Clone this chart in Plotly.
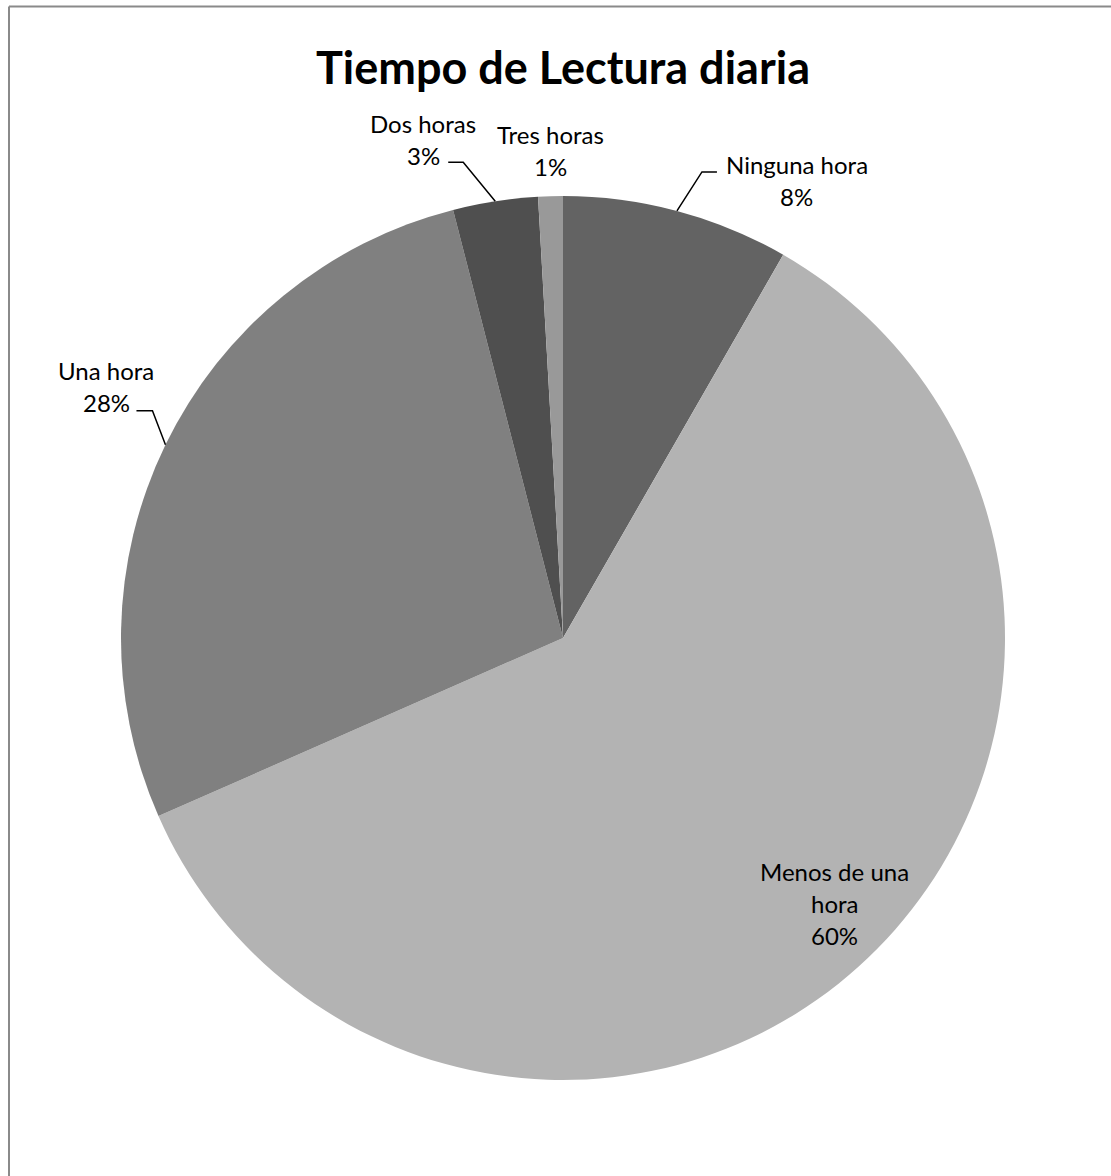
import math
import plotly.graph_objects as go

# ---- data ----
categories = ["Ninguna hora", "Menos de una hora", "Una hora", "Dos horas", "Tres horas"]
values = [8.3, 60.1, 27.6, 3.1, 0.9]
colors = ["#636363", "#b3b3b3", "#808080", "#4f4f4f", "#999999"]
label_lines = [["Ninguna hora"], ["Menos de una", "hora"], ["Una hora"], ["Dos horas"], ["Tres horas"]]

W, H = 1111, 1176
CX, CY, R = 563, 638, 442   # pie centre / radius in pixels
FONT = "Lato"
LBL_SIZE = 24
LINE_H = 32

def px(x):
    return x / W

def py(y):
    return 1 - y / H

total = sum(values)
pcts = [round(v / total * 100) for v in values]

fig = go.Figure(go.Pie(
    labels=categories,
    values=values,
    sort=False,
    direction="clockwise",
    rotation=0,
    marker=dict(colors=colors, line=dict(width=0)),
    textinfo="none",
    hoverinfo="label+percent",
    showlegend=False,
    domain=dict(x=[px(CX - R), px(CX + R)], y=[py(CY + R), py(CY - R)]),
))

# label placement style relative to slice edge point:
# (mode, elbow dx, elbow dy, horizontal len, label dx from line end, first-line dy from elbow)
label_style = [
    ("line", 25, -39, 15, 80, -7),
    ("inside", 0.85, 20, -46, 0, 0),
    ("line", -13, -34, -16, -30, -40),
    ("line", -32, -39, -15, -25, -39),
    ("above", 0, -62, 0, 0, 0),
]

annotations = []
shapes = []

def add_text_block(cx, y_first, lines):
    for k, t in enumerate(lines):
        annotations.append(dict(x=px(cx), y=py(y_first + k * LINE_H), xref="paper", yref="paper",
                                text=t, showarrow=False, align="center",
                                xanchor="center", yanchor="middle",
                                font=dict(family=FONT, size=LBL_SIZE, color="black")))

cum = 0.0
for i, v in enumerate(values):
    mid = (cum + v / 2) / total * 2 * math.pi
    cum += v
    sx = CX + R * math.sin(mid)
    sy = CY - R * math.cos(mid)
    mode, a, b, c, d, e = label_style[i]
    lines = label_lines[i] + [f"{pcts[i]}%"]
    if mode == "inside":
        lx = CX + R * a * math.sin(mid) + b
        ly = CY - R * a * math.cos(mid) + c
        add_text_block(lx, ly, lines)
    elif mode == "above":
        add_text_block(sx + a, sy + b, lines)
    else:
        ex, ey = sx + a, sy + b
        hx = ex + c
        shapes.append(dict(type="path", xref="paper", yref="paper",
                           path=f"M {px(sx)},{py(sy)} L {px(ex)},{py(ey)} L {px(hx)},{py(ey)}",
                           line=dict(color="black", width=1.5)))
        add_text_block(hx + d, ey + e, lines)

# chart frame (left and top edges visible)
shapes.append(dict(type="line", xref="paper", yref="paper", x0=px(9), x1=px(9), y0=0, y1=py(6.5),
                   line=dict(color="#8a8a8a", width=2)))
shapes.append(dict(type="line", xref="paper", yref="paper", x0=px(9), x1=1, y0=py(6.5), y1=py(6.5),
                   line=dict(color="#8a8a8a", width=2)))

fig.update_layout(
    width=W, height=H,
    margin=dict(l=0, r=0, t=0, b=0),
    paper_bgcolor="white",
    plot_bgcolor="white",
    title=dict(text="<b>Tiempo de Lectura diaria</b>", x=px(CX), y=py(68),
               xanchor="center", yanchor="middle",
               font=dict(family=FONT, size=45, color="black")),
    annotations=annotations,
    shapes=shapes,
)

fig.write_html("out.html", config={"displayModeBar": False},
               post_script="document.body.style.margin='0';")
